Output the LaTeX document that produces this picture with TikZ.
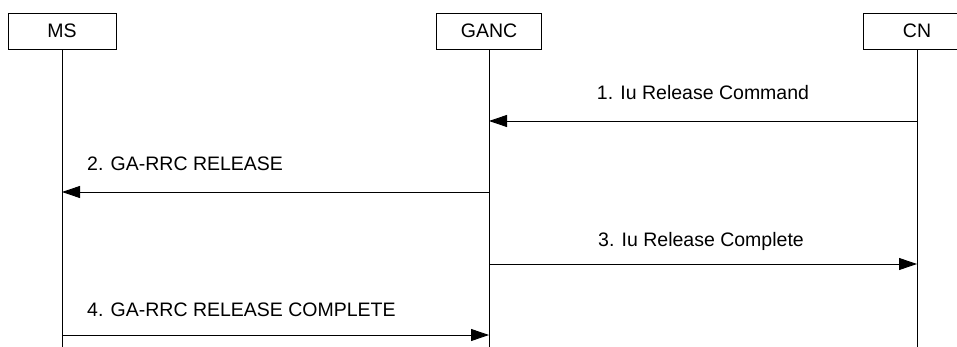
\documentclass[tikz,border=0pt]{standalone}
\usepackage{fontspec}
\setmainfont{Liberation Sans}
\usetikzlibrary{arrows.meta}
\begin{document}
\begin{tikzpicture}[x=1pt,y=-1pt,
  entity/.style={draw,line width=0.9pt,minimum width=108pt,minimum height=36pt,inner sep=0pt,font=\fontsize{19.5}{21}\selectfont},
  lifeline/.style={line width=0.9pt},
  msg/.style={line width=0.9pt,-{Triangle[length=18pt,width=12pt]}},
  lbl/.style={font=\fontsize{19.5}{21}\selectfont,inner sep=0pt}]
\useasboundingbox (0,0) rectangle (957,347);
\begin{scope}
\clip (0,0) rectangle (957,347);
\node[entity] (ms) at (62,31) {MS};
\node[entity,minimum width=105pt] (ganc) at (489,31) {GANC};
\node[entity] (cn) at (917,31) {CN};
\end{scope}
\coordinate (msE) at (62,347);
\coordinate (gancE) at (489,347);
\coordinate (cnE) at (917,347);
\draw[lifeline] (ms.south) -- (msE);
\draw[lifeline] (ganc.south) -- (gancE);
\draw[lifeline] (cn.south) -- (cnE);
% message points
\coordinate (m1a) at (917,121); \coordinate (m1b) at (489,121);
\coordinate (m2a) at (489,192); \coordinate (m2b) at (62,192);
\coordinate (m3a) at (489,264); \coordinate (m3b) at (917,264);
\coordinate (m4a) at (62,335); \coordinate (m4b) at (489,335);
\draw[msg] (m1a) -- (m1b);
\node[lbl,anchor=base] (l1) at (703,100) {1. Iu Release Command};
\draw[msg] (m2a) -- (m2b);
\node[lbl,anchor=base west] (l2) at (87,171) {2. GA-RRC RELEASE};
\draw[msg] (m3a) -- (m3b);
\node[lbl,anchor=base] (l3) at (701,247) {3. Iu Release Complete};
\draw[msg] (m4a) -- (m4b);
\node[lbl,anchor=base west] (l4) at (87,316) {4. GA-RRC RELEASE COMPLETE};
\end{tikzpicture}
\end{document}
